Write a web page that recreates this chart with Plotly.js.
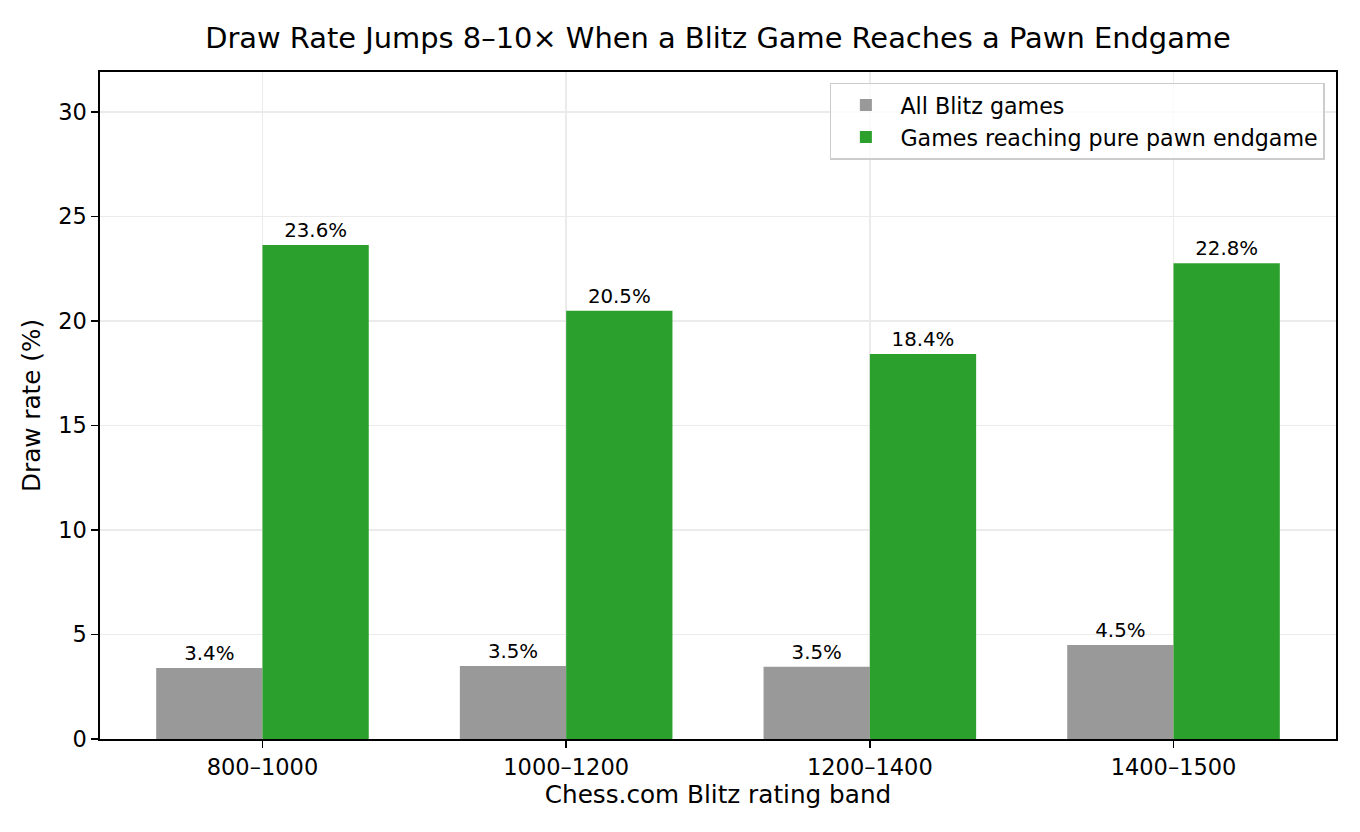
<!DOCTYPE html>
<html>
<head>
<meta charset="utf-8">
<script src="https://cdn.plot.ly/plotly-3.0.1.min.js"></script>
<style>html,body{margin:0;padding:0;background:#fff;}#chart{width:1360px;height:832px;}</style>
</head>
<body>
<div id="chart"></div>
<script>
const categories = ["800–1000", "1000–1200", "1200–1400", "1400–1500"];
const allBlitz = [3.4, 3.49, 3.46, 4.5];
const pawnEndgame = [23.64, 20.5, 18.43, 22.77];
const seriesNames = ["All Blitz games", "Games reaching pure pawn endgame"];
const yTicks = [0, 5, 10, 15, 20, 25, 30];

const font = "DejaVu Sans, sans-serif";
const fmt = v => v.toFixed(1) + "%";

const traces = [
  {type: "bar", x: categories, y: allBlitz, name: seriesNames[0],
   marker: {color: "#999999", line: {width: 0}},
   text: allBlitz.map(fmt), textposition: "outside", cliponaxis: false,
   constraintext: "none", textfont: {size: 19.8, color: "#000", family: font}},
  {type: "bar", x: categories, y: pawnEndgame, name: seriesNames[1],
   marker: {color: "#2ca02c", line: {width: 0}},
   text: pawnEndgame.map(fmt), textposition: "outside", cliponaxis: false,
   constraintext: "none", textfont: {size: 19.8, color: "#000", family: font}}
];

const layout = {
  width: 1360, height: 832,
  margin: {l: 100, r: 24, t: 72, b: 93},
  paper_bgcolor: "#fff", plot_bgcolor: "#fff",
  font: {family: font, color: "#000", size: 22},
  title: {text: "Draw Rate Jumps 8–10× When a Blitz Game Reaches a Pawn Endgame",
          font: {size: 28.9, family: font, color: "#000"}, xref: "paper", x: 0.5, xanchor: "center", y: 0.955, yanchor: "middle"},
  barmode: "group", bargap: 0.3, bargroupgap: 0,
  showlegend: true,
  legend: {x: 0.991, xanchor: "right", y: 0.984, yanchor: "top",
           bgcolor: "rgba(255,255,255,0.8)", bordercolor: "#cccccc", borderwidth: 1.5,
           itemwidth: 59, tracegroupgap: 0,
           font: {size: 22.2, family: font, color: "#000"}},
  xaxis: {type: "category", range: [-0.535, 3.535],
          title: {text: "Chess.com Blitz rating band", font: {size: 24.7, family: font}, standoff: 7},
          showline: true, linecolor: "#000", linewidth: 1.6, mirror: true,
          ticks: "outside", ticklen: 7, tickwidth: 1.6, tickcolor: "#000",
          showgrid: true, gridcolor: "#ebebeb", gridwidth: 1.4,
          tickfont: {size: 22.5, family: font}, fixedrange: true},
  yaxis: {range: [0, 31.92], tickvals: yTicks,
          title: {text: "Draw rate (%)", font: {size: 24.7, family: font}, standoff: 10},
          showline: true, linecolor: "#000", linewidth: 1.6, mirror: true,
          ticks: "outside", ticklen: 7, tickwidth: 1.6, tickcolor: "#000",
          showgrid: true, gridcolor: "#ebebeb", gridwidth: 1.4, zeroline: false,
          tickfont: {size: 22.5, family: font}, fixedrange: true}
};

Plotly.newPlot("chart", traces, layout, {displayModeBar: false, staticPlot: true});
</script>
</body>
</html>
